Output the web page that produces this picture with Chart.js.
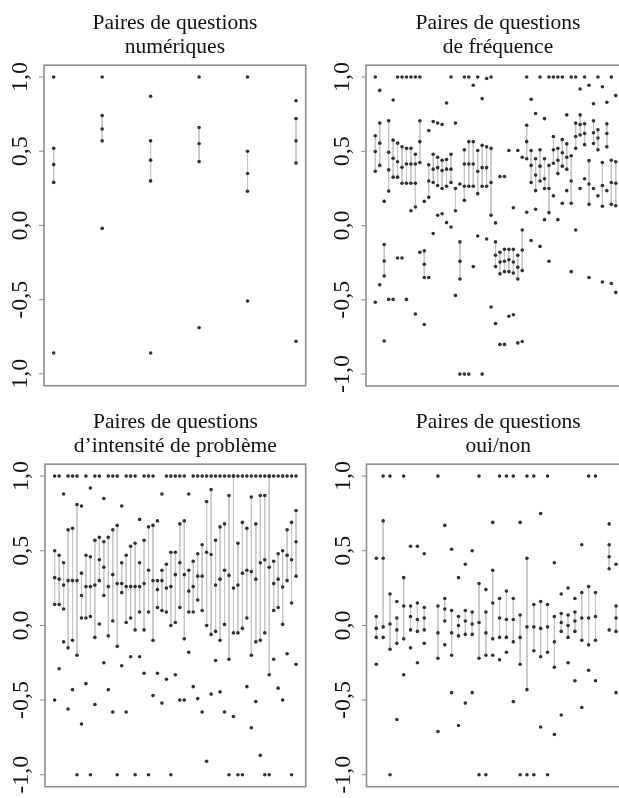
<!DOCTYPE html>
<html>
<head>
<meta charset="utf-8">
<script src="https://cdn.jsdelivr.net/npm/chart.js@4.4.1/dist/chart.umd.min.js"></script>
<style>
  html, body { margin: 0; padding: 0; background: #fff; }
  #page { position: relative; width: 619px; height: 798px; overflow: hidden; }
  canvas { position: absolute; }
</style>
</head>
<body>
<div id="page">
  <canvas id="numChart" width="310" height="390" style="left:0;top:0"></canvas>
  <canvas id="freqChart" width="320" height="399" style="left:320px;top:0"></canvas>
  <canvas id="probChart" width="310" height="399" style="left:0;top:399px"></canvas>
  <canvas id="ynChart" width="320" height="399" style="left:320px;top:399px"></canvas>
</div>
<script>
;(function (document, Chart) {
  var tickValues = [1, 0.5, 0, -0.5, -1]
  var tickLabels = ['1,0', '0,5', '0,0', '-0,5', '-1,0']
  var numTickLabels = ['1,0', '0,5', '0,0', '-0,5', '1,0']

  // per question pair: values joined by the vertical line, and the free points
  var numLinked = [[0.52, 0.41, 0.29], [0.74, 0.65, 0.57], [0.57, 0.44, 0.30], [0.66, 0.55, 0.43], [0.50, 0.35, 0.23], [0.72, 0.57, 0.42]]
  var numLoose = [[1.0, -0.86], [1.0, -0.02], [0.87, -0.86], [1.0, -0.69], [1.0, -0.51], [0.84, -0.78]]

  var freqLinked = [
    [0.605, 0.498, 0.366], [0.69, 0.555, 0.405], [-0.127, -0.238, -0.339], [0.705, 0.493, 0.375, 0.232], [0.575, 0.453, 0.326],
    [0.555, 0.43, 0.326], [0.53, 0.392, 0.285], [0.52, 0.415, 0.285], [0.52, 0.415, 0.285], [0.48, 0.415, 0.285, 0.125],
    [0.705, 0.565, 0.425], [-0.17, -0.26, -0.35], [0.41, 0.30, 0.19], [0.48, 0.38, 0.29], [0.46, 0.39, 0.27],
    [0.44, 0.37, 0.25], [0.445, 0.38, 0.265], [0.48, 0.38, 0.29], [0.25, 0.10], [-0.11, -0.24, -0.36],
    [0.51, 0.415, 0.265, 0.17], [0.565, 0.415, 0.265], [0.565, 0.415, 0.265], [0.505, 0.365, 0.215], [0.54, 0.39, 0.265],
    [0.53, 0.39, 0.265], [0.52, 0.29, 0.07], [-0.11, -0.2, -0.276], [-0.18, -0.245, -0.325], [-0.16, -0.24, -0.31],
    [-0.16, -0.23, -0.31], [-0.16, -0.245, -0.32], [-0.2, -0.28, -0.36], [-0.03, -0.165, -0.303], [0.675, 0.565, 0.45],
    [0.505, 0.405, 0.29], [0.45, 0.34, 0.235], [0.51, 0.40, 0.30], [0.45, 0.315, 0.25], [0.405, 0.25, 0.087],
    [0.60, 0.51, 0.42], [0.52, 0.44, 0.35], [0.58, 0.49, 0.40], [0.55, 0.46, 0.38], [0.47, 0.30, 0.15],
    [0.69, 0.60, 0.52], [0.745, 0.68, 0.61], [0.685, 0.62, 0.545], [0.437, 0.28, 0.143], [0.705, 0.625, 0.553],
    [0.645, 0.59, 0.51], [0.425, 0.27, 0.13], [0.685, 0.62, 0.53], [0.44, 0.29, 0.143], [0.43, 0.285, 0.134]
  ]
  var freqLoose = [
    [1.0, -0.516], [0.91, -0.399], [0.163, -0.777], [-0.497], [0.845, -0.497],
    [1.0, -0.218], [1.0, -0.218], [1.0, -0.497], [1.0, 0.10], [1.0, -0.595],
    [1.0, -0.18], [0.163, -0.666], [0.64, -0.35], [0.70, -0.053], [0.69, 0.07],
    [0.68, 0.08], [0.825, 0.02], [1.0, -0.01], [0.69, -0.47], [0.28, -1.0],
    [1.0, -1.0], [1.0, -1.0], [0.945, -0.276], [1.0, -0.07], [0.855, -1.0],
    [0.99, -0.09], [1.0, -0.548], [0.018, -0.66], [0.33, -0.80], [0.33, -0.80],
    [0.505, -0.61], [0.12, -0.60], [0.505, -0.79], [0.46, -0.78], [1.0, 0.09],
    [0.85, -0.10], [0.755, 0.11], [1.0, -0.14], [0.72, 0.04], [1.0, -0.24],
    [1.0, 0.20], [1.0, 0.04], [1.0, 0.15], [0.745, 0.235], [1.0, -0.31],
    [1.0, -0.03], [0.92, 0.25], [1.0, 0.315], [0.945, -0.35], [0.82, 0.25],
    [1.0, 0.20], [0.935, -0.38], [0.83, 0.235], [1.0, -0.39], [0.875, -0.45]
  ]

  var probLinked = [
    [0.50, 0.32, 0.14], [0.47, 0.31, 0.14], [0.42, 0.27, 0.11], [0.64, 0.30, -0.15], [0.65, 0.30, -0.10],
    [0.81, 0.30, -0.20], [0.35, 0.20, 0.05], [0.47, 0.26, 0.05], [0.46, 0.26, 0.06], [0.57, 0.27, -0.08],
    [0.59, 0.44, 0.30], [0.56, 0.39, 0.20], [0.59, 0.26, -0.07], [0.64, 0.34, 0.03], [0.67, 0.28, -0.14],
    [0.42, 0.28, 0.22], [0.47, 0.26, 0.02], [0.53, 0.26, 0.05], [0.55, 0.26, -0.03], [0.42, 0.26, 0.09],
    [0.57, 0.28, -0.03], [0.66, 0.37, 0.09], [0.67, 0.30, -0.10], [0.30, 0.24, 0.12], [0.37, 0.30, 0.10],
    [0.41, 0.25, 0.09], [0.49, 0.26, 0.00], [0.49, 0.34, 0.02], [0.68, 0.42, 0.12], [0.70, 0.34, -0.09],
    [0.37, 0.23, 0.09], [0.43, 0.26, 0.09], [0.48, 0.33, 0.17], [0.54, 0.33, 0.10], [0.83, 0.49, 0.00],
    [0.91, 0.475, -0.06], [0.57, 0.27, -0.04], [0.66, 0.31, -0.10], [0.68, 0.37, 0.007], [0.87, 0.335, -0.226],
    [1.0, 0.25, -0.05], [0.55, 0.27, -0.05], [0.69, 0.35, -0.02], [0.65, 0.37, 0.05], [0.86, 0.36, -0.20],
    [0.68, 0.31, -0.11], [0.87, 0.42, -0.10], [0.87, 0.44, -0.05], [1.0, 0.39, -0.33], [0.43, 0.28, 0.10],
    [0.48, 0.31, 0.12], [0.50, 0.257, 0.007], [0.64, 0.47, 0.30], [0.69, 0.44, 0.15], [0.77, 0.56, 0.33]
  ]
  var probLoose = [
    [1.0, -0.50], [1.0, -0.29], [0.88, -0.11], [1.0, -0.56], [1.0, -0.43],
    [1.0, -1.0], [0.80, -0.66], [1.0, -0.39], [0.92, -1.0], [1.0, -0.53],
    [1.0, 0.01], [0.85, -0.25], [1.0, -0.43], [1.0, -0.58], [1.0, -1.0],
    [0.80, -0.27], [1.0, -0.58], [1.0, -0.21], [1.0, -1.0], [0.71, -0.21],
    [1.0, -0.32], [1.0, -1.0], [1.0, -0.47], [0.70, -0.32], [0.88, -0.52],
    [1.0, -0.36], [1.0, -1.0], [1.0, -0.33], [1.0, -0.50], [1.0, -0.50],
    [0.88, -0.18], [1.0, -0.41], [1.0, -0.49], [1.0, -0.58], [1.0, -0.91],
    [1.0, -0.46], [1.0, -0.235], [1.0, -0.445], [1.0, -0.58], [1.0, -1.0],
    [1.0, -0.61], [1.0, -1.0], [1.0, -1.0], [1.0, -0.41], [1.0, -0.685],
    [1.0, -0.51], [1.0, -0.87], [1.0, -1.0], [1.0, -1.0], [1.0, -0.226],
    [1.0, -0.42], [1.0, -0.50], [1.0, -0.19], [1.0, -1.0], [1.0, -0.26]
  ]

  var ynLinked = [
    [0.06, -0.02, -0.08], [0.70, 0.45, -0.01], [0.21, 0.01, -0.16], [0.05, -0.03, -0.12], [0.32, 0.13, -0.09],
    [0.13, 0.06, -0.03], [0.15, 0.04, -0.04], [0.12, 0.05, -0.03], [], [0.13, -0.05, -0.22],
    [0.18, 0.11, 0.03], [0.10, -0.05, -0.20], [0.06, 0.00, -0.07], [0.10, 0.03, -0.06], [0.09, 0.01, -0.06],
    [0.28, 0.02, -0.22], [0.09, -0.05, -0.20], [0.37, 0.15, -0.09], [0.18, 0.05, -0.08], [0.23, 0.04, -0.08],
    [0.18, 0.04, -0.11], [0.07, -0.08, -0.26], [0.45, -0.01, -0.43], [0.14, -0.01, -0.17], [0.16, -0.02, -0.21],
    [0.14, -0.01, -0.18], [0.06, -0.11, -0.28], [0.08, 0.02, -0.04], [0.07, 0.00, -0.08], [0.09, 0.03, -0.04],
    [0.22, 0.05, -0.10], [0.26, 0.05, -0.13], [0.22, 0.06, -0.10], [], [0.54, 0.46, 0.38],
    [0.13, 0.05, -0.04]
  ]
  var ynLoose = [
    [0.45, -0.26], [1.0, -0.08], [1.0, -1.0], [0.16, -0.63], [1.0, -0.33],
    [0.53, -0.15], [0.53, -0.25], [0.48, -0.12], [], [1.0, -0.71],
    [0.67, -0.13], [0.51, -0.45], [0.32, -0.67], [0.41, -0.52], [0.50, -0.45],
    [1.0, -1.0], [0.24, -1.0], [0.69, -0.20], [1.0, -0.23], [1.0, -0.18],
    [1.0, -0.51], [0.69, -1.0], [1.0, -1.0], [1.0, -1.0], [0.75, -0.68],
    [1.0, -1.0], [0.42, -0.73], [0.21, -0.60], [0.25, -0.25], [0.18, -0.37],
    [0.54, -0.55], [1.0, -0.30], [1.0, -0.37], [], [0.68, -0.03],
    [0.41, -0.45]
  ]

  var serif = '"Liberation Serif", "Times New Roman", serif'

  // one segment per pair, broken apart with null gaps
  function buildLines (linked) {
    var pts = []
    for (var i = 0; i < linked.length; i++) {
      if (linked[i].length < 2) continue
      pts.push({ x: i, y: Math.max.apply(null, linked[i]) })
      pts.push({ x: i, y: Math.min.apply(null, linked[i]) })
      pts.push({ x: i, y: null })
    }
    return pts
  }

  function buildPoints (linked, loose) {
    var pts = []
    for (var i = 0; i < linked.length; i++) {
      var vals = linked[i].concat(loose[i])
      for (var j = 0; j < vals.length; j++) pts.push({ x: i, y: vals[j] })
    }
    return pts
  }

  // box around the plot, left ticks and upright labels
  var framePlugin = {
    id: 'frame',
    afterDatasetsDraw: function (chart, args, opts) {
      var ctx = chart.ctx
      var a = chart.chartArea
      var ys = chart.scales.y
      ctx.save()
      ctx.strokeStyle = '#8c8c8c'
      ctx.lineWidth = 1.6
      ctx.strokeRect(a.left, a.top, a.right - a.left, a.bottom - a.top)
      ctx.lineWidth = 1
      ctx.fillStyle = '#111'
      ctx.font = '24px ' + serif
      ctx.textAlign = 'center'
      ctx.textBaseline = 'middle'
      for (var i = 0; i < tickValues.length; i++) {
        var py = ys.getPixelForValue(tickValues[i])
        ctx.beginPath()
        ctx.moveTo(a.left - 5, py)
        ctx.lineTo(a.left, py)
        ctx.stroke()
        ctx.save()
        ctx.translate(a.left - 23, py)
        ctx.rotate(-Math.PI / 2)
        ctx.fillText(opts.labels[i], 0, 0)
        ctx.restore()
      }
      ctx.restore()
    }
  }

  function makePanel (id, title, linked, loose, xMin, xMax, pad, labels) {
    return new Chart(document.getElementById(id), {
      type: 'scatter',
      data: {
        datasets: [
          {
            data: buildPoints(linked, loose),
            pointRadius: 1.8,
            pointBackgroundColor: '#303030',
            pointBorderWidth: 0,
            order: 0
          },
          {
            data: buildLines(linked),
            showLine: true,
            spanGaps: false,
            borderColor: '#c6c6c6',
            borderWidth: 1,
            pointRadius: 0,
            order: 1
          }
        ]
      },
      options: {
        responsive: false,
        animation: false,
        events: [],
        layout: { padding: pad },
        scales: {
          x: { type: 'linear', display: false, min: xMin, max: xMax },
          y: { type: 'linear', display: false, min: -1.08, max: 1.08 }
        },
        plugins: {
          legend: { display: false },
          tooltip: { enabled: false },
          title: {
            display: true,
            text: title,
            color: '#111',
            font: { family: serif, size: 21.5, weight: 'normal', lineHeight: 1.12 },
            padding: { top: 3, bottom: 6 }
          },
          frame: { labels: labels }
        }
      },
      plugins: [framePlugin]
    })
  }

  makePanel('numChart', ['Paires de questions', 'numériques'], numLinked, numLoose,
    -0.2, 5.2, { left: 44, right: 4.3, top: 8, bottom: 4.3 }, numTickLabels)
  makePanel('freqChart', ['Paires de questions', 'de fréquence'], freqLinked, freqLoose,
    -2.09, 57.2, { left: 46, right: 10, top: 8, bottom: 13 }, tickLabels)
  makePanel('probChart', ['Paires de questions', 'd\u2019intensité de problème'], probLinked, probLoose,
    -2.16, 56.16, { left: 45, right: 4.3, top: 8, bottom: 11.3 }, tickLabels)
  makePanel('ynChart', ['Paires de questions', 'oui/non'], ynLinked, ynLoose,
    -1.43, 37.04, { left: 46.5, right: 10, top: 8, bottom: 11.3 }, tickLabels)
})(document, Chart);
</script>
</body>
</html>
